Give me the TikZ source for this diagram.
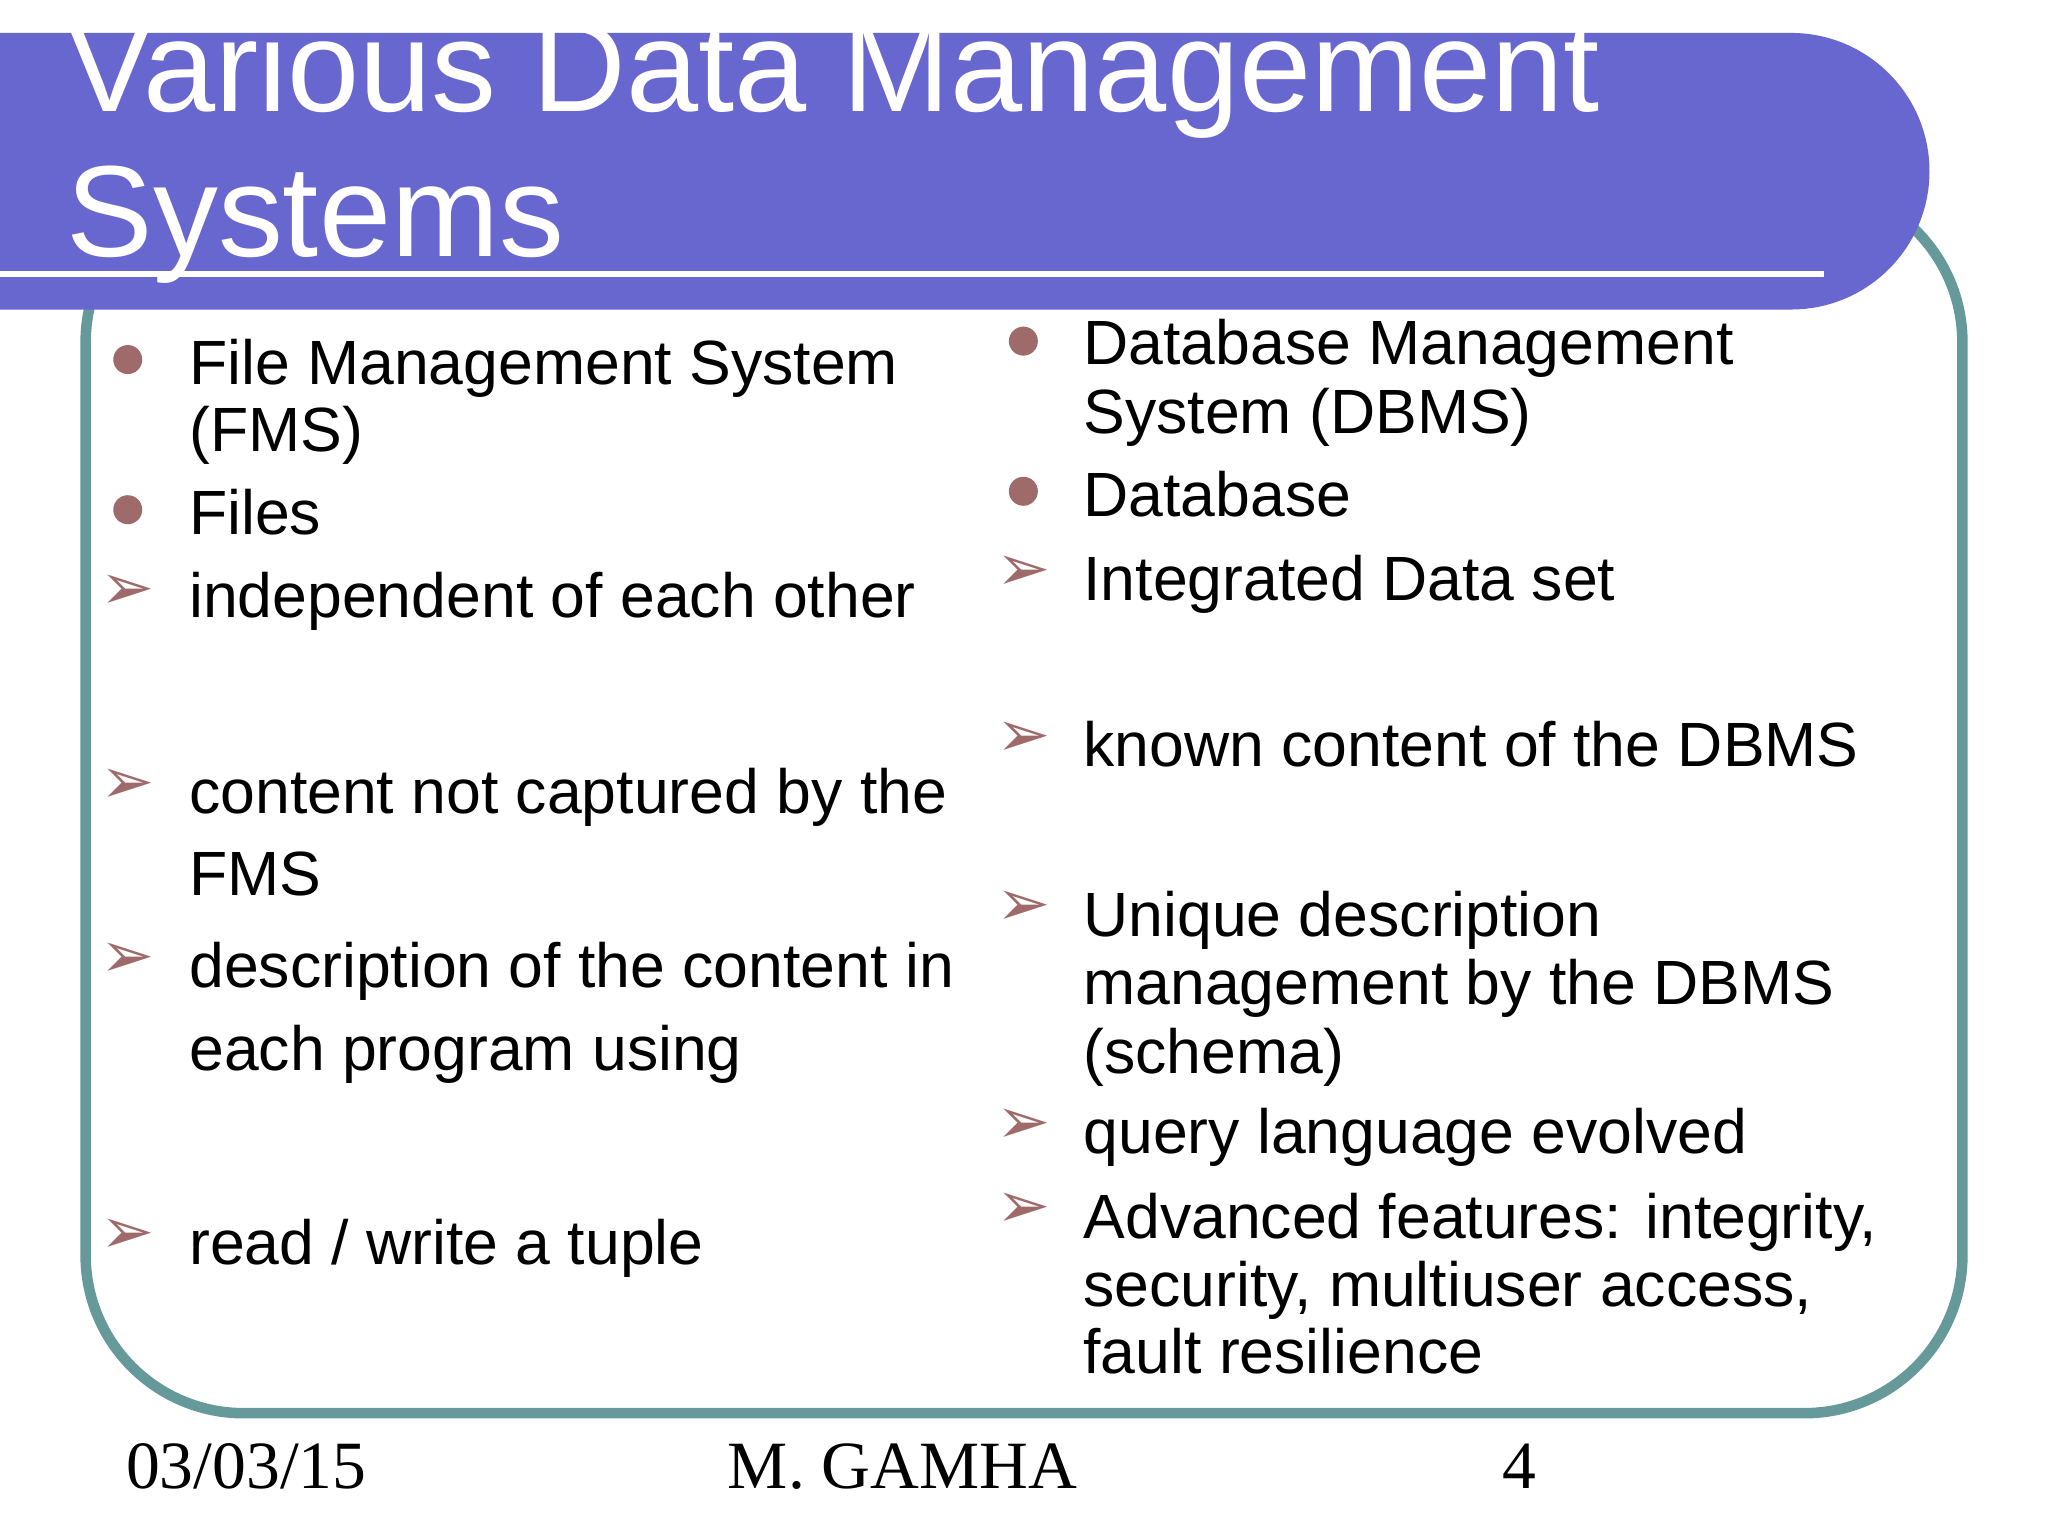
\documentclass[tikz,border=0pt]{standalone}
\usepackage{fontspec}
\setmainfont{Liberation Sans}
\newfontfamily\serifft{Liberation Serif}
\newfontfamily\dejavu{DejaVu Sans}
\definecolor{titlebg}{HTML}{6767CF}
\definecolor{teal}{HTML}{669999}
\definecolor{bul}{HTML}{9E6A6A}
\begin{document}
\begin{tikzpicture}[x=0.01cm,y=-0.01cm,
  txt/.style={anchor=base west,inner sep=0,font=\fontsize{13.5pt}{16pt}\selectfont},
  foot/.style={anchor=base west,inner sep=0,font=\serifft\fontsize{14.6pt}{16pt}\selectfont},
  dot/.style={circle,fill=bul,inner sep=0,minimum size=0.22cm},
  arr/.style={anchor=base,inner sep=0,text=bul,font=\dejavu\fontsize{14pt}{15pt}\selectfont}]
\useasboundingbox (0,0) rectangle (1555,1166);
\fill[white] (0,0) rectangle (1555,1166);
\draw[teal,line width=0.08cm,rounded corners=1.2cm] (65,140) rectangle (1490,1073);
\begin{scope}
\clip (0,25) rectangle (1555,240);
\fill[titlebg,rounded corners=1.05cm] (-300,25) rectangle (1465,235);
\end{scope}
\draw[white,line width=0.05cm] (0,208) -- (1385,208);
\node[anchor=base west,inner sep=0,text=white,font=\fontsize{28pt}{30pt}\selectfont] (t1) at (50,85) {Various Data Management};
\node[anchor=base west,inner sep=0,text=white,font=\fontsize{28pt}{30pt}\selectfont] (t2) at (50,195) {Systems};
% left column
\node[dot] (b1) at (97,273) {};
\node[txt] (l1) at (143,292) {File Management System};
\node[txt] (l2) at (143,343) {(FMS)};
\node[dot] (b2) at (97,387) {};
\node[txt] (l3) at (143,406) {Files};
\node[arr] (a1) at (97,463) {➢};
\node[txt] (l4) at (143,469) {independent of each other};
\node[arr] (a2) at (97,610) {➢};
\node[txt] (l5) at (143,618) {content not captured by the};
\node[txt] (l6) at (143,680) {FMS};
\node[arr] (a3) at (97,742) {➢};
\node[txt] (l7) at (143,750) {description of the content in};
\node[txt] (l8) at (143,813) {each program using};
\node[arr] (a4) at (97,952) {➢};
\node[txt] (l9) at (143,960) {read / write a tuple};
% right column
\node[dot] (c1) at (777,259) {};
\node[txt] (r1) at (822,277) {Database Management};
\node[txt] (r2) at (822,329) {System (DBMS)};
\node[dot] (c2) at (777,373) {};
\node[txt] (r3) at (822,392) {Database};
\node[arr] (d1) at (777,448) {➢};
\node[txt] (r4) at (822,456) {Integrated Data set};
\node[arr] (d2) at (777,574) {➢};
\node[txt] (r5) at (822,582) {known content of the DBMS};
\node[arr] (d3) at (777,703) {➢};
\node[txt] (r6) at (822,711) {Unique description};
\node[txt] (r7) at (822,763) {management by the DBMS};
\node[txt] (r8) at (822,815) {(schema)};
\node[arr] (d4) at (777,868) {➢};
\node[txt] (r9) at (822,876) {query language evolved};
\node[arr] (d5) at (777,932) {➢};
\node[txt] (r10) at (822,940) {Advanced features: integrity,};
\node[txt] (r11) at (822,992) {security, multiuser access,};
\node[txt] (r12) at (822,1043) {fault resilience};
% footer
\node[foot] (f1) at (95,1130) {03/03/15};
\node[foot] (f2) at (552,1130) {M. GAMHA};
\node[foot] (f3) at (1140,1130) {4};
\end{tikzpicture}
\end{document}
